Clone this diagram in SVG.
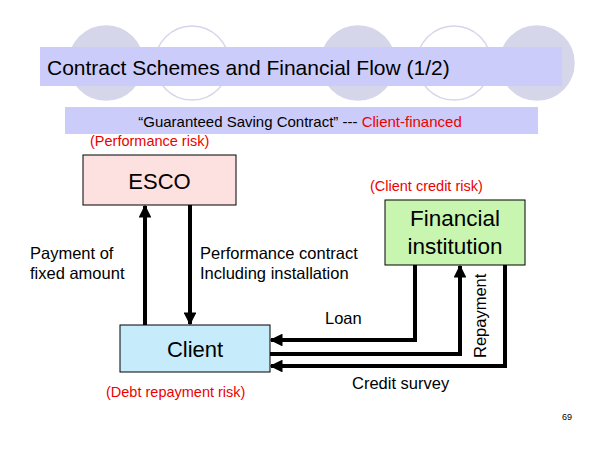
<svg xmlns="http://www.w3.org/2000/svg" width="600" height="450" viewBox="0 0 600 450">
<defs>
<marker id="ah" viewBox="0 0 10 10" refX="9" refY="5" markerWidth="3.2" markerHeight="3.2" orient="auto" markerUnits="strokeWidth"><path d="M0,0 L10,5 L0,10 z" fill="#000"/></marker>
</defs>
<style>
text{font-family:"Liberation Sans",Arial,sans-serif}
.c1{fill:#d6d6ea;stroke:#d6d6ea;stroke-width:1.5}
.c2{fill:#fff;stroke:#d6d6ea;stroke-width:1.5}
.box{stroke:#000;stroke-width:1}
.ln{fill:none;stroke:#000;stroke-width:4;marker-end:url(#ah)}
.lab{font-size:16.5px}
.red{fill:#e00;font-size:14.5px}
</style>
<rect width="600" height="450" fill="#fff"/>
<circle class="c1" cx="106" cy="63" r="37"/>
<circle class="c2" cx="192" cy="63" r="37"/>
<circle class="c1" cx="358" cy="63" r="37"/>
<circle class="c2" cx="454" cy="63" r="37"/>
<circle class="c1" cx="537" cy="63" r="37"/>
<rect x="40" y="47" width="522" height="39" fill="#ccccfa"/>
<text x="47" y="75" font-size="21">Contract Schemes and Financial Flow (1/2)</text>
<rect x="65" y="107" width="473" height="27" fill="#ccccfa"/>
<text x="300" y="127" font-size="15" text-anchor="middle">“Guaranteed Saving Contract” --- <tspan fill="#e00">Client-financed</tspan></text>
<g id="connectors">
<line class="ln" x1="145" y1="325" x2="145" y2="206"/>
<line class="ln" x1="190" y1="205" x2="190" y2="324"/>
<polyline class="ln" points="415,265 415,340 271,340"/>
<polyline class="ln" points="270,354 460,354 460,266"/>
<polyline class="ln" points="505,265 505,366 271,366"/>
</g>
<g id="esco"><rect class="box" x="83" y="155" width="153" height="50" fill="#fde0e0"/><text x="159.5" y="189" font-size="22" text-anchor="middle">ESCO</text></g>
<g id="client"><rect class="box" x="120" y="325" width="150" height="47" fill="#c6ecfc"/><text x="195" y="357" font-size="22" text-anchor="middle">Client</text></g>
<g id="fi"><rect class="box" x="385" y="200" width="140" height="65" fill="#c8f6b0"/><text x="455" y="226" font-size="22.5" text-anchor="middle">Financial</text><text x="455" y="254" font-size="22.5" text-anchor="middle">institution</text></g>
<text class="red" x="90" y="146">(Performance risk)</text>
<text class="red" x="370" y="191">(Client credit risk)</text>
<text class="red" x="106" y="397">(Debt repayment risk)</text>
<text class="lab" x="30" y="259">Payment of</text>
<text class="lab" x="30" y="279">fixed amount</text>
<text class="lab" x="200" y="259">Performance contract</text>
<text class="lab" x="200" y="279">Including installation</text>
<text class="lab" x="325" y="324">Loan</text>
<text class="lab" x="352" y="389">Credit survey</text>
<text class="lab" transform="translate(486,358) rotate(-90)">Repayment</text>
<text x="562" y="420" font-size="9">69</text>
</svg>
